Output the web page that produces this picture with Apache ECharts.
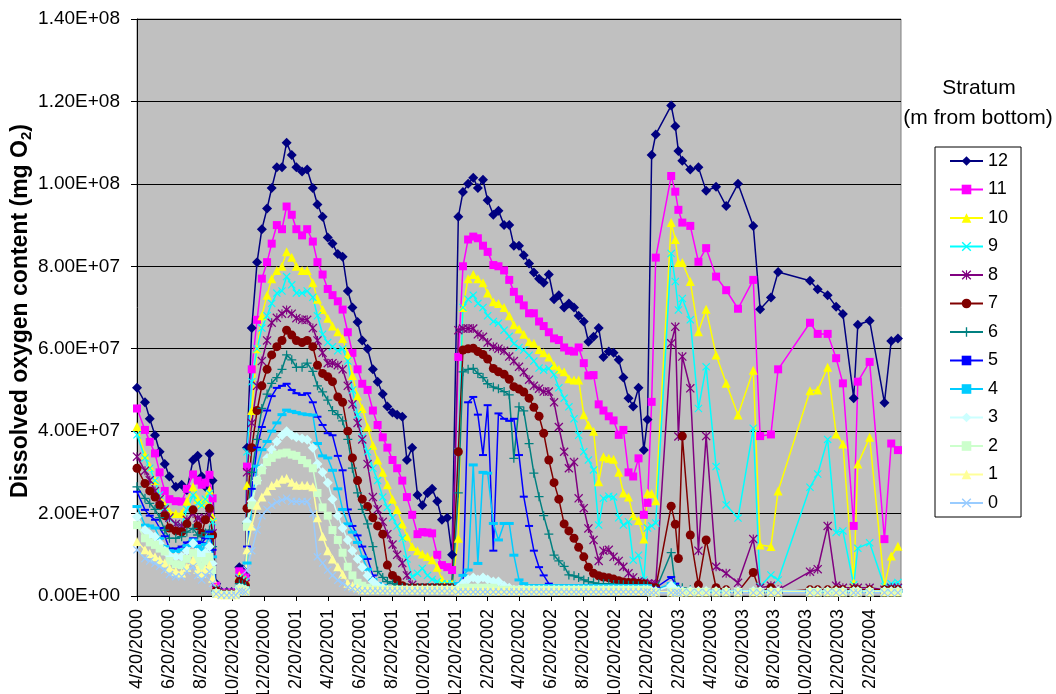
<!DOCTYPE html>
<html>
<head>
<meta charset="utf-8">
<title>Dissolved oxygen content by stratum</title>
<script src="https://cdn.jsdelivr.net/npm/echarts@6/dist/echarts.min.js"></script>
<style>
  html, body { margin: 0; padding: 0; background: #fff; }
  #chart { width: 1056px; height: 694px; }
</style>
</head>
<body>
<div id="chart"></div>
<script>
// sampling dates, as days after 4/20/2000
var dayOffsets = [
  0, 15, 24, 34, 43, 53, 62, 74, 85, 95, 107, 116, 124, 131, 139, 145,
  152, 162, 172, 181, 189,
  196, 202, 208,
  211, 220, 230, 239, 249, 258, 268, 278, 287, 297, 306, 316, 325, 335, 344, 354, 364, 373, 383, 392,
  402, 411, 421, 430, 440, 450, 459, 469, 478, 488, 497, 507, 516, 526, 536, 545, 555, 564, 574, 583, 593, 602,
  614, 623, 633, 643, 652, 662, 671, 681, 690, 700, 710, 719, 729, 738, 748, 757, 767, 776, 786, 796,
  805, 815, 824, 834, 843, 853, 862, 872, 882, 891, 901, 910, 920, 929, 939, 948, 958, 968, 975,
  983, 991, 1021, 1029, 1035, 1042, 1056, 1071, 1086, 1105, 1124, 1147, 1176, 1189, 1210, 1224,
  1285, 1300, 1319, 1335, 1348, 1369, 1377, 1400, 1427, 1440, 1453
];

// dissolved oxygen per stratum, in millions of mg O2
var s12 = [
  50.5, 47, 43, 39, 35, 32, 29, 26.5, 27, 25.7, 33, 34, 29, 26.5, 34.5, 28,
  3, 1, 1, 1, 1,
  7, 6.5, 5,
  36, 65, 81, 89, 94, 99, 104, 104, 110, 107, 104, 103, 103.5, 99, 95, 92, 87, 85.5, 83, 82.3,
  74, 70, 66.5, 62, 60, 55, 52, 49, 46, 44.5, 44, 43.5, 33, 36, 24.5, 22, 25, 26, 23, 18.5, 19, 10,
  92, 98, 100, 101.5, 99, 101, 96, 92.5, 93.5, 90, 90, 85, 85, 82.7, 80.7, 78.5, 77, 76, 78, 72,
  73, 70, 71, 70, 68, 66.6, 61.7, 62.9, 65, 58, 59.3, 59, 57.3, 53, 48, 46, 50.5, 35.4, 42.8,
  107, 112, 119, 114, 108, 105.6, 103.5, 104, 98.3, 99.3, 94.6, 100, 89.8, 69.6, 72.4, 78.6,
  76.5, 74.4, 73, 70.2, 68.4, 48, 65.8, 66.8, 46.9, 61.9, 62.5
];
var s11 = [
  45.5, 40.3, 37.4, 34.6, 30, 25.5, 23.5, 23, 22.9, 26, 29.5, 28, 27, 27.5, 29.4, 23.7,
  2.5, 0.8, 0.8, 0.8, 0.8,
  6, 5.5, 4.5,
  31.4, 55, 67, 77, 81, 85.5, 90, 89, 94.5, 92.5, 89, 87.5, 89, 86, 81, 78, 74.5, 73, 71.5, 69.5,
  64, 59, 55, 51.5, 50, 45, 41.5, 38.5, 36, 33, 31, 28, 24, 19.7, 15, 15.5, 15.4, 15.2, 10, 7.5, 7, 6.3,
  58, 80, 86.5, 87.2, 86.8, 85, 83.5, 80.3, 80, 79, 76.7, 73.8, 72, 70.5, 68.6, 68.6, 66.6, 65.5, 64, 62.5,
  62.1, 60.3, 59.5, 59.3, 60.3, 56.5, 53.5, 53.6, 46.5, 45, 43.6, 42.6, 39.1, 40.3, 30, 29, 33.4, 19.7, 22.6,
  47.1, 82.1, 101.9, 98.1, 93.7, 90.6, 89.8, 81.1, 84.4, 77.5, 74.2, 69.7, 76.7, 38.8, 39.2, 55,
  66.3, 63.6, 63.6, 57.7, 51.6, 17, 52, 56.8, 13.8, 37, 35.4
];
var s10 = [
  41.1, 34.2, 31.4, 28, 24, 22, 20.5, 20, 20, 23, 26.5, 23.5, 22.5, 23.5, 25.7, 19.2,
  2, 0.7, 0.7, 0.7, 0.7,
  5, 4.5, 4,
  26.9, 45, 60, 68, 73, 77, 79, 80, 83.5, 82.2, 80, 79, 79, 76, 72, 69.5, 67.4, 65.5, 64.1, 62.5,
  58.5, 53.5, 48.5, 45.5, 41, 36.6, 33, 30, 27, 23.5, 21, 17.5, 14.5, 12, 11, 10.2, 9.6, 8.8, 7, 4, 3, 3,
  14, 70, 77, 78, 77, 76, 73.5, 71.4, 71, 70, 68, 65.8, 64.8, 63.5, 61.7, 61.3, 59.8, 59, 58, 56,
  55, 54.4, 52.7, 52.4, 52.4, 44, 41.5, 40, 27.7, 33.8, 33.4, 33.2, 30, 25, 24, 19.5, 18.3, 13.8, 25,
  24.9, 23.1, 90.6, 86.5, 80.9, 80.9, 76.3, 64.1, 69.6, 58.5, 51.6, 43.9, 54.8, 12.4, 12, 25.5,
  49.8, 50, 55.5, 39.3, 36.9, 3.2, 32, 38.5, 2.4, 9.7, 12.1
];
var s9 = [
  39.1, 33.5, 31, 28, 24.5, 21.5, 18.8, 17.5, 17, 21, 24.5, 22.5, 22, 23.5, 24.9, 18,
  1.8, 0.6, 0.6, 0.6, 0.6,
  4.5, 4, 3.5,
  35, 52, 60, 65, 68, 71, 73.5, 74, 77.5, 75.5, 73.5, 73.5, 74, 72.5, 68, 63.5, 61.5, 60.5, 59.5, 60,
  57, 50, 44, 38.5, 35, 31, 28, 24, 21.5, 19, 17, 14, 9, 4.7, 5.5, 6.7, 5, 4, 3.5, 3, 3, 3,
  35, 70, 72, 73, 71, 70, 68, 66.6, 66.2, 64.5, 63, 61.2, 60.3, 59.7, 58.4, 57, 55.3, 54.8, 55.2, 53.7,
  50.5, 48, 45.9, 43, 39, 35, 33, 30.6, 17.2, 23.7, 24.2, 24, 19, 17.2, 18, 8.7, 9.9, 3.9, 16.5,
  17, 17.7, 83.1, 76.3, 69.4, 72.2, 67, 45.5, 55.6, 31.4, 22.1, 18.9, 40.7, 2.3, 5.1, 3.9,
  26.4, 29.6, 38, 15.4, 15.8, 2.7, 11.6, 12.9, 2.3, 3, 3.3
];
var s8 = [
  33.8, 30.4, 28.1, 25.5, 23.5, 21, 19, 17.5, 17, 18.5, 20, 18.9, 18.5, 19, 19.7, 15.2,
  1.5, 0.5, 0.5, 0.5, 0.5,
  4, 3.5, 3,
  30, 42, 51, 57, 62, 66.3, 67.5, 68.5, 69.4, 68.5, 67.4, 67, 67, 65, 62, 59, 56.5, 56.5, 56, 55,
  51, 46.5, 42, 38, 32, 24, 21, 18, 15, 12.5, 10, 8, 5, 2.7, 2, 2, 2, 2, 2, 2, 2, 2,
  64.5, 64.9, 64.9, 64.9, 63.5, 62.9, 61.5, 60.5, 60, 59.5, 58.1, 57, 55.6, 54.3, 52.5, 51, 50.3, 49.6, 49.6, 47,
  41, 35, 31, 32.5, 23.7, 21.3, 16.4, 13.6, 8.5, 11, 11.2, 9.5, 8.5, 7.1, 5.5, 4.5, 3.5, 3.2, 3,
  3, 3, 61.3, 65.3, 38.7, 58.1, 50.4, 11, 38.8, 7.1, 5.5, 3.2, 13.8, 2, 2.5, 1.5,
  5.9, 6.5, 17, 2.5, 2, 2, 2, 2, 1.5, 2, 2
];
var s7 = [
  31, 27.3, 25.5, 24, 22, 19.5, 16.5, 15.8, 15.6, 17.5, 20.9, 17, 15.2, 18.5, 21.3, 14.8,
  1.3, 0.5, 0.5, 0.5, 0.5,
  3.5, 3, 2.5,
  21.3, 36, 45, 51, 55, 58.5, 60.5, 62, 64.5, 63.3, 62, 61.5, 62, 60.5, 56, 54, 53.2, 52, 48.3, 47,
  40, 33.5, 28, 23.5, 21.7, 19, 17, 15, 7.5, 5, 3.9, 2.5, 2, 2, 2, 2, 2, 2, 2, 2, 2, 2,
  35, 59.7, 60, 60.1, 59.3, 58.6, 57.5, 55.2, 54.4, 53.8, 52.6, 50.8, 50.2, 49.5, 48, 45.8, 43.6, 39.5, 33, 27.5,
  23.5, 17.5, 15.8, 14, 11.8, 9.5, 7, 5.5, 4.9, 4.6, 4.4, 4.1, 3.7, 3.4, 3.3, 3.2, 3.1, 3, 2.5,
  2, 2, 21.8, 17.4, 9.1, 38.8, 14.8, 2.7, 13.6, 2, 1.5, 1, 5.7, 1, 2, 1,
  1.5, 1.5, 1.5, 1.5, 1.5, 1.5, 1.5, 1.5, 1.5, 1.5, 1.5
];
var s6 = [
  26.5, 23.7, 22.5, 21, 19, 16, 14, 14, 14.4, 15.5, 16.4, 14.8, 14.4, 15.3, 16, 12,
  1.2, 0.5, 0.5, 0.5, 0.5,
  3, 2.7, 2.3,
  17.6, 30, 38, 45.5, 49, 51.6, 53, 55, 58.5, 57.3, 55.5, 55.5, 56.5, 54.5, 51, 49.5, 47.5, 45, 44, 42.5,
  38, 31, 25, 21, 17.5, 12, 6, 4.5, 3.5, 3, 2.5, 2, 2, 2, 2, 2, 2, 2, 2, 2, 2, 2,
  25, 54.4, 55, 55.2, 54, 53, 51.5, 50.7, 50.3, 49.6, 48.8, 33.4, 45.9, 44.9, 37, 29.8, 24.1, 19.5, 15, 9.9,
  8.5, 7.2, 5.1, 4.9, 4.5, 3.9, 3.5, 3.2, 3, 3, 3, 2.8, 2.8, 2.7, 2.6, 2.6, 2.5, 2.5, 2.5,
  1.5, 1.5, 10.5, 2.5, 2, 2, 1.5, 1, 1, 1, 1, 1, 1, 1, 1, 1,
  1, 1, 1, 1, 1, 1, 1, 1, 1, 1, 1
];
var s5 = [
  25.3, 20.9, 19.5, 18.5, 16.5, 14.5, 11.5, 11.5, 12, 13, 14, 13.2, 12.8, 14, 15.6, 11.2,
  1, 0.4, 0.4, 0.4, 0.4,
  2.5, 2.2, 2,
  12, 26, 36, 41, 45, 48.5, 50.5, 51, 51.5, 50, 49.2, 48.8, 49.2, 47, 43.5, 41.5, 39.5, 39, 34, 30.5,
  21, 17, 14.7, 12, 9, 5, 3, 2.5, 2, 2, 2, 2, 2, 2, 2, 2, 2, 2, 2, 2, 2, 2,
  3, 3, 47, 48.3, 44, 34.2, 46.3, 11, 44.3, 43, 42.5, 43, 34.2, 24.1, 17, 11, 7, 5, 3, 2,
  2, 2, 2, 2, 2, 2, 2, 2, 2, 2, 2, 2, 2, 2, 2, 2, 2, 2, 2,
  1.5, 2, 4.6, 3, 2, 1, 1, 1, 1, 1, 1, 1, 1, 1, 1, 1,
  1, 1, 1, 1, 1, 1, 1, 1, 1, 1, 1
];
var s4 = [
  21.7, 17.2, 17, 16.5, 14, 12, 11, 10.8, 11.2, 12.2, 13.6, 12, 11.2, 12.5, 14.4, 9.5,
  0.9, 0.3, 0.3, 0.3, 0.3,
  2.2, 2, 1.8,
  8, 22, 31.5, 35.5, 37.5, 40, 42, 44, 45.1, 44.8, 44.5, 44.2, 44, 43.9, 37, 34, 33.5, 30.5, 26, 21,
  17.5, 15.5, 13, 9.5, 6.5, 4, 3, 2.5, 2, 2, 2, 2, 2, 2, 2, 2, 2, 2, 2, 2, 2, 2,
  3, 5, 6.3, 31.8, 7.9, 30, 29.8, 17.6, 13.6, 17.6, 17.6, 9.9, 3.9, 3, 2.5, 2.5, 2.5, 2.5, 2.5, 2.5,
  2.5, 2.5, 2.5, 2.5, 2.5, 2.5, 2.5, 2.5, 2.5, 2.5, 2.5, 2.5, 2.5, 2.5, 2.5, 2.5, 2.5, 2.5, 2.5,
  1.5, 1.5, 3, 2, 1.2, 1.2, 1.2, 1.2, 1.2, 1.2, 1.2, 1.2, 1.2, 1.2, 1.2, 1.2,
  1.2, 1.2, 1.2, 1.2, 1.2, 1.2, 1.2, 1.2, 1.2, 1.2, 1.2
];
var s3 = [
  19.2, 16, 15, 14.4, 12.8, 11, 9.8, 9.5, 9.5, 11, 12.8, 10.5, 9.5, 10.5, 12, 7.9,
  0.8, 0.3, 0.3, 0.3, 0.3,
  2, 1.8, 1.5,
  18, 23, 28, 31, 33.5, 35.5, 37.5, 39, 40, 39, 38.5, 38.2, 37.9, 36, 32, 30, 27.5, 23.5, 19.5, 16.5,
  13.6, 11, 9, 7, 5, 3.5, 2.5, 2, 1.5, 1.5, 1.5, 1.5, 1.5, 1.5, 1.5, 1.5, 1.5, 1.5, 1.5, 1.5, 1.5, 1.5,
  2, 3, 4, 4.5, 4, 4.5, 4, 3.5, 3.5, 2.5, 2, 1.5, 1.5, 1.5, 1.5, 1.5, 1.5, 1.5, 1.5, 1.5,
  1.5, 1.5, 1.5, 1.5, 1.5, 1.5, 1.5, 1.5, 1.5, 1.5, 1.5, 1.5, 1.5, 1.5, 1.5, 1.5, 1.5, 1.5, 1.5,
  1.2, 1.2, 2.5, 1.5, 1.2, 1.2, 1.2, 1.2, 1.2, 1.2, 1.2, 1.2, 1.2, 1.2, 1.2, 1.2,
  1.2, 1.2, 1.2, 1.2, 1.2, 1.2, 1.2, 1.2, 1.2, 1.2, 1.2
];
var s2 = [
  17.2, 14, 13, 12.4, 11.5, 10.8, 8.5, 7.7, 7.5, 9, 10.4, 8.5, 7.1, 8.5, 9.5, 6.3,
  0.7, 0.3, 0.3, 0.3, 0.3,
  1.8, 1.6, 1.4,
  16.8, 22, 28, 30.5, 32.5, 33.5, 34.3, 34.6, 34.8, 34.3, 34, 33, 32.2, 31, 25, 21.5, 19.5, 16, 13.6, 10.5,
  7.1, 5, 3.2, 2.5, 2, 1.5, 1.5, 1.5, 1.5, 1.5, 1.5, 1.5, 1.5, 1.5, 1.5, 1.5, 1.5, 1.5, 1.5, 1.5, 1.5, 1.5,
  1.5, 2, 2, 2, 2, 2, 2, 2, 1.5, 1.5, 1.5, 1.5, 1.5, 1.5, 1.5, 1.5, 1.5, 1.5, 1.5, 1.5,
  1.5, 1.5, 1.5, 1.5, 1.5, 1.5, 1.5, 1.5, 1.5, 1.5, 1.5, 1.5, 1.5, 1.5, 1.5, 1.5, 1.5, 1.5, 1.5,
  1, 1, 1, 1, 1, 1, 1, 1, 1, 1, 1, 1, 1, 1, 1, 1,
  1, 1, 1, 1, 1, 1, 1, 1, 1, 1, 1
];
var s1 = [
  13.2, 11.2, 10.3, 9.5, 8.8, 8, 6.8, 6, 5.6, 7, 8.7, 6.5, 5.5, 6.5, 7.5, 4.3,
  0.6, 0.3, 0.3, 0.3, 0.3,
  1.5, 1.4, 1.2,
  11.2, 17, 22, 24, 25.5, 26.8, 27.5, 28.3, 28.6, 27.6, 26.9, 26.9, 26.9, 26.5, 19, 14.5, 11, 9, 7.1, 5.3,
  3.1, 2.5, 2, 1.5, 1.5, 1.5, 1.5, 1.5, 1.5, 1.5, 1.5, 1.5, 1.5, 1.5, 1.5, 1.5, 1.5, 1.5, 1.5, 1.5, 1.5, 1.5,
  1.3, 1.3, 1.3, 1.3, 1.3, 1.3, 1.3, 1.3, 1.3, 1.3, 1.3, 1.3, 1.3, 1.3, 1.3, 1.3, 1.3, 1.3, 1.3, 1.3,
  1.3, 1.3, 1.3, 1.3, 1.3, 1.3, 1.3, 1.3, 1.3, 1.3, 1.3, 1.3, 1.3, 1.3, 1.3, 1.3, 1.3, 1.3, 1.3,
  1, 1, 1, 1, 1, 1, 1, 1, 1, 1, 1, 1, 1, 1, 1, 1,
  1, 1, 1, 1, 1, 1, 1, 1, 1, 1, 1
];
var s0 = [
  11.2, 9.1, 8.5, 7.9, 7.2, 6.3, 5.2, 4.7, 4.7, 6, 7.1, 5, 3.9, 5, 5.9, 3.1,
  0.5, 0.2, 0.2, 0.2, 0.2,
  1.2, 1.1, 1,
  6.3, 11, 16, 19.5, 21, 22, 22.8, 23.3, 23.7, 23, 22.9, 22.9, 22.9, 20, 9.5, 8, 6.3, 5, 3.8, 3.1,
  2.2, 1.8, 1.5, 1.2, 1.2, 1.2, 1.2, 1.2, 1.2, 1.2, 1.2, 1.2, 1.2, 1.2, 1.2, 1.2, 1.2, 1.2, 1.2, 1.2, 1.2, 1.2,
  1, 1, 1, 1, 1, 1, 1, 1, 1, 1, 1, 1, 1, 1, 1, 1, 1, 1, 1, 1,
  1, 1, 1, 1, 1, 1, 1, 1, 1, 1, 1, 1, 1, 1, 1, 1, 1, 1, 1,
  0.8, 0.8, 0.8, 0.8, 0.8, 0.8, 0.8, 0.8, 0.8, 0.8, 0.8, 0.8, 0.8, 0.8, 0.8, 0.8,
  0.8, 0.8, 0.8, 0.8, 0.8, 0.8, 0.8, 0.8, 0.8, 0.8, 0.8
];

var strata = ['12', '11', '10', '9', '8', '7', '6', '5', '4', '3', '2', '1', '0'];
var strataValues = [s12, s11, s10, s9, s8, s7, s6, s5, s4, s3, s2, s1, s0];

// excel 2003 style colours / markers
var colors = ['#000080', '#FF00FF', '#FFFF00', '#00FFFF', '#800080', '#800000', '#008080',
  '#0000FF', '#00CCFF', '#CCFFFF', '#CCFFCC', '#FFFF99', '#99CCFF'];
var xMark = 'path://M1,0L5,4L9,0L10,1L6,5L10,9L9,10L5,6L1,10L0,9L4,5L0,1Z';
var starMark = 'path://M1,0L5,4L9,0L10,1L6,5L10,9L9,10L5,6L1,10L0,9L4,5L0,1Z M4.4,0L5.6,0L5.6,10L4.4,10Z';
var plusMark = 'path://M4.3,0L5.7,0L5.7,4.3L10,4.3L10,5.7L5.7,5.7L5.7,10L4.3,10L4.3,5.7L0,5.7L0,4.3L4.3,4.3Z';
var symbols = ['diamond', 'rect', 'triangle', xMark, starMark, 'circle', plusMark,
  'rect', 'rect', 'diamond', 'rect', 'triangle', xMark];
var symbolSizes = [10, 8, 9, 8, 9, 9, 9, [8, 2], [9, 3], 10, 8, 9, 8];

var FONT = '"Liberation Sans", Arial, sans-serif';

// x axis runs in months counted from 4/20/2000, so the 20th of each month is a whole number
function dayToMonths(d) {
  var t = new Date(2000, 3, 20 + d);
  var y = t.getFullYear(), m = t.getMonth();
  if (t.getDate() < 20) m -= 1;
  var base = new Date(y, m, 20), next = new Date(y, m + 1, 20);
  var idx = (base.getFullYear() - 2000) * 12 + base.getMonth() - 3;
  return idx + (t - base) / (next - base);
}

function monthLabel(v) {
  var idx = 3 + Math.round(v);
  return (idx % 12 + 1) + '/20/' + (2000 + Math.floor(idx / 12));
}

function sci(v) {
  if (v === 0) return '0.00E+00';
  var e = Math.floor(Math.log10(v));
  var m = v / Math.pow(10, e);
  return m.toFixed(2) + 'E+' + (e < 10 ? '0' + e : e);
}

var chart = echarts.init(document.getElementById('chart'));

var series = strata.map(function (name, i) {
  return {
    name: name,
    type: 'line',
    data: dayOffsets.map(function (d, j) {
      return [dayToMonths(d), strataValues[i][j] * 1e6];
    }),
    symbol: symbols[i],
    symbolSize: symbolSizes[i],
    showSymbol: true,
    showAllSymbol: true,
    lineStyle: { color: colors[i], width: 1.5 },
    itemStyle: { color: colors[i] },
    emphasis: { disabled: true }
  };
});

var option = {
  animation: false,
  backgroundColor: '#ffffff',
  textStyle: { fontFamily: FONT },
  grid: {
    left: 137, top: 19, width: 764, height: 577,
    outerBoundsMode: 'none',
    containLabel: false,
    show: true, backgroundColor: '#c0c0c0', borderColor: '#808080', borderWidth: 1
  },
  legend: {
    orient: 'vertical',
    left: 935, top: 147,
    data: strata,
    itemWidth: 33, itemHeight: 12, itemGap: 10.5,
    padding: [5, 13, 5, 14],
    borderColor: '#000', borderWidth: 1,
    textStyle: { fontFamily: FONT, fontSize: 18, color: '#000' }
  },
  xAxis: {
    type: 'value',
    min: 0,
    max: dayToMonths(1459),
    interval: 2,
    splitLine: { show: false },
    axisLine: { lineStyle: { color: '#000', width: 1 } },
    axisTick: { show: true, length: 5, lineStyle: { color: '#000' } },
    axisLabel: {
      rotate: 90,
      margin: 13,
      showMaxLabel: false,
      fontFamily: FONT, fontSize: 18, color: '#000',
      formatter: monthLabel
    }
  },
  yAxis: {
    type: 'value',
    min: 0, max: 1.4e8, interval: 2e7,
    axisLine: { show: true, lineStyle: { color: '#000' } },
    axisTick: { show: true, length: 6, lineStyle: { color: '#000' } },
    axisLabel: { margin: 17, fontFamily: FONT, fontSize: 19, color: '#000', formatter: sci },
    splitLine: { show: true, lineStyle: { color: '#000', width: 1 } }
  },
  graphic: [
    {
      type: 'text',
      x: 21, y: 311,
      rotation: Math.PI / 2,
      style: {
        text: '{a|Dissolved oxygen content (mg O}{b|2}{a|)}',
        align: 'center', verticalAlign: 'middle',
        rich: {
          a: { fontFamily: FONT, fontSize: 23, fontWeight: 'bold', fill: '#000', lineHeight: 26 },
          b: { fontFamily: FONT, fontSize: 15, fontWeight: 'bold', fill: '#000', lineHeight: 26, verticalAlign: 'bottom', padding: [8, 0, 0, 0] }
        }
      }
    },
    {
      type: 'text', x: 979, y: 88,
      style: { text: 'Stratum', font: '21px ' + FONT, fill: '#000', align: 'center', verticalAlign: 'middle' }
    },
    {
      type: 'text', x: 978, y: 118,
      style: { text: '(m from bottom)', font: '21px ' + FONT, fill: '#000', align: 'center', verticalAlign: 'middle' }
    }
  ],
  series: series
};

chart.setOption(option);
</script>
</body>
</html>
